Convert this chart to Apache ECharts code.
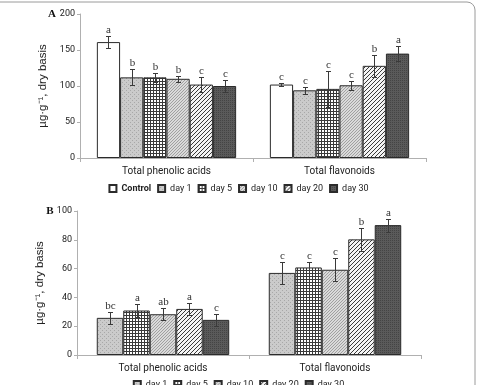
<!DOCTYPE html>
<html>
<head>
<meta charset="utf-8">
<script src="https://cdn.jsdelivr.net/npm/echarts@6/dist/echarts.min.js"></script>
<style>
  html, body { margin: 0; padding: 0; background: #fff; }
  #chart { width: 477px; height: 385px; }
</style>
</head>
<body>
<div id="chart"></div>
<script>
// categories and groups
var categories = ['Total phenolic acids', 'Total flavonoids'];
var seriesA = ['Control', 'day 1', 'day 5', 'day 10', 'day 20', 'day 30'];
var seriesB = ['day 1', 'day 5', 'day 10', 'day 20', 'day 30'];

// panel A: one row per series, [phenolic, flavonoids]
var meansA = [[161, 102], [112, 94], [112, 96], [110, 101], [102, 128], [100, 145]];
var errA = [[8, 1.5], [11, 5], [6, 25], [4, 6], [11, 15], [9, 10]];
var lettersA = [['a', 'c'], ['b', 'c'], ['b', 'c'], ['b', 'c'], ['c', 'b'], ['c', 'a']];

// panel B
var meansB = [[25.8, 57], [30.9, 60.8], [28.3, 59.2], [32, 80.3], [24.4, 90.2]];
var errB = [[4, 7.5], [4.5, 3.7], [4, 8], [4, 8], [4, 4.5]];
var lettersB = [['bc', 'c'], ['a', 'c'], ['ab', 'c'], ['a', 'b'], ['c', 'a']];

var ticksA = [0, 50, 100, 150, 200];
var ticksB = [0, 20, 40, 60, 80, 100];

var sans = 'Roboto, "Liberation Sans", sans-serif';

function pat(w, h, draw) {
  var c = document.createElement('canvas');
  c.width = w; c.height = h;
  var g = c.getContext('2d');
  draw(g);
  return { image: c, repeat: 'repeat' };
}
var fills = {
  'Control': '#ffffff',
  'day 1': pat(4, 4, function (g) {
    g.fillStyle = '#cbcbcb'; g.fillRect(0, 0, 4, 4);
    g.fillStyle = '#a8a8a8'; g.fillRect(0, 0, 1, 1); g.fillRect(2, 2, 1, 1);
  }),
  'day 5': pat(3, 3, function (g) {
    g.fillStyle = '#ffffff'; g.fillRect(0, 0, 3, 3);
    g.fillStyle = '#3a3a3a'; g.fillRect(0, 0, 3, 1); g.fillRect(0, 0, 1, 3);
  }),
  'day 10': pat(3, 3, function (g) {
    g.fillStyle = '#dadada'; g.fillRect(0, 0, 3, 3);
    g.fillStyle = '#a0a0a0'; g.fillRect(0, 0, 1, 1); g.fillRect(1, 2, 1, 1); g.fillRect(2, 1, 1, 1);
  }),
  'day 20': pat(4, 4, function (g) {
    g.fillStyle = '#f4f4f4'; g.fillRect(0, 0, 4, 4);
    g.fillStyle = '#3a3a3a';
    g.fillRect(0, 3, 1, 1); g.fillRect(1, 2, 1, 1); g.fillRect(2, 1, 1, 1); g.fillRect(3, 0, 1, 1);
  }),
  'day 30': pat(2, 2, function (g) {
    g.fillStyle = '#5a5a5a'; g.fillRect(0, 0, 2, 2);
    g.fillStyle = '#444444'; g.fillRect(0, 0, 1, 1);
  })
};

var gapA = 0.195, gapB = 0.23;

function barSeries(names, means, axis, gap) {
  return names.map(function (n, i) {
    return {
      name: n, type: 'bar', xAxisIndex: axis, yAxisIndex: axis,
      barGap: 0, barCategoryGap: (gap * 100) + '%',
      itemStyle: { color: fills[n], borderColor: '#2b2b2b', borderWidth: 1 },
      data: means[i]
    };
  });
}

function errSeries(means, errs, letters, axis, gap) {
  var n = means.length, items = [];
  means.forEach(function (row, s) {
    row.forEach(function (v, c) {
      items.push({ s: s, c: c, lo: v - errs[s][c], hi: v + errs[s][c], t: letters[s][c] });
    });
  });
  return {
    type: 'custom', xAxisIndex: axis, yAxisIndex: axis, z: 5,
    data: items.map(function (d) { return [d.c, d.lo, d.hi]; }),
    encode: { x: 0, y: [1, 2] },
    renderItem: function (params, api) {
      var d = items[params.dataIndex];
      var top = api.coord([d.c, d.hi]);
      var bot = api.coord([d.c, d.lo]);
      var catW = api.size([1, 0])[0];
      var bw = catW * (1 - gap) / n;
      var x = Math.round(top[0] + (d.s - (n - 1) / 2) * bw) + 0.5;
      var y1 = Math.round(top[1]) + 0.5, y2 = Math.round(bot[1]) + 0.5;
      var st = { stroke: '#3a3a3a', lineWidth: 1 };
      return {
        type: 'group',
        children: [
          { type: 'line', shape: { x1: x, y1: y1, x2: x, y2: y2 }, style: st },
          { type: 'line', shape: { x1: x - 2.5, y1: y1, x2: x + 2.5, y2: y1 }, style: st },
          { type: 'line', shape: { x1: x - 2.5, y1: y2, x2: x + 2.5, y2: y2 }, style: st },
          { type: 'text', x: x, y: y1 - 1, style: {
              text: d.t, fill: '#333', font: '11px "Liberation Serif", serif',
              align: 'center', verticalAlign: 'bottom' } }
        ]
      };
    }
  };
}

function xAx(grid) {
  return {
    type: 'category', gridIndex: grid, data: categories,
    axisLine: { lineStyle: { color: '#b0b0b0' } },
    axisTick: { show: true, length: 4, lineStyle: { color: '#b0b0b0' } },
    axisLabel: { color: '#222', fontSize: 10, fontFamily: sans, margin: 8 }
  };
}
function yAx(grid, ticks) {
  return {
    type: 'value', gridIndex: grid, min: ticks[0], max: ticks[ticks.length - 1],
    interval: ticks[1] - ticks[0],
    name: 'µg·g⁻¹, dry basis', nameLocation: 'middle', nameGap: 24, nameRotate: 90,
    nameTextStyle: { color: '#222', fontSize: 11.5, fontFamily: 'Liberation Sans' },
    axisLine: { show: true, lineStyle: { color: '#b0b0b0' } },
    axisTick: { show: true, length: 3, lineStyle: { color: '#b0b0b0' } },
    splitLine: { show: false },
    axisLabel: { color: '#222', fontSize: 9, fontFamily: sans, margin: 5 }
  };
}

var legendText = {
  color: '#222', fontSize: 9, fontFamily: sans,
  rich: { b: { fontWeight: 'bold', fontSize: 9, fontFamily: sans } }
};

var chart = echarts.init(document.getElementById('chart'));
chart.setOption({
  animation: false,
  grid: [
    { left: 80, right: 51, top: 14, height: 144 },
    { left: 77, right: 56, top: 211, height: 144 }
  ],
  xAxis: [xAx(0), xAx(1)],
  yAxis: [yAx(0, ticksA), yAx(1, ticksB)],
  legend: [
    { data: seriesA, top: 184, left: 'center', icon: 'rect', itemWidth: 7, itemHeight: 7,
      itemGap: 6, textStyle: legendText, padding: 0,
      formatter: function (n) { return n === 'Control' ? '{b|' + n + '}' : n; } },
    { data: seriesB, top: 380, left: 'center', icon: 'rect', itemWidth: 7, itemHeight: 7,
      itemGap: 6, textStyle: legendText, padding: 0 }
  ],
  graphic: [
    { type: 'rect', shape: { x: -10, y: 2, width: 485, height: 420, r: 8 },
      style: { fill: 'none', stroke: '#9a9a9a', lineWidth: 1 }, silent: true },
    { type: 'text', x: 52, y: 14, style: { text: 'A', font: 'bold 11px "Liberation Serif", serif',
      fill: '#111', align: 'center', verticalAlign: 'middle' } },
    { type: 'text', x: 50, y: 211, style: { text: 'B', font: 'bold 11px "Liberation Serif", serif',
      fill: '#111', align: 'center', verticalAlign: 'middle' } }
  ],
  series: [].concat(
    barSeries(seriesA, meansA, 0, gapA),
    barSeries(seriesB, meansB, 1, gapB),
    [errSeries(meansA, errA, lettersA, 0, gapA), errSeries(meansB, errB, lettersB, 1, gapB)]
  )
});
</script>
</body>
</html>
